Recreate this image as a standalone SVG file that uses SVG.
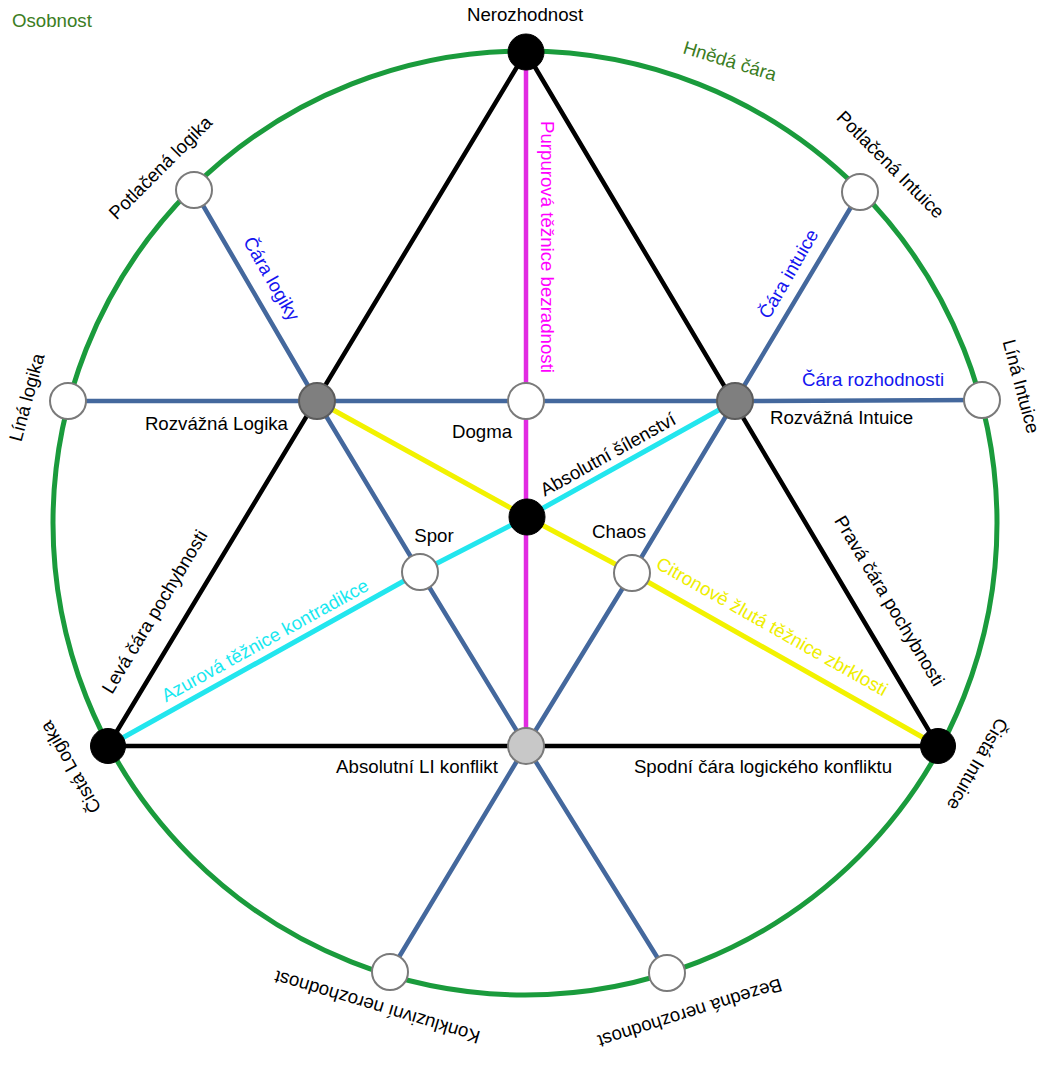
<svg xmlns="http://www.w3.org/2000/svg" width="1052" height="1068" viewBox="0 0 1052 1068">
<style>
text{font-family:"Liberation Sans",Arial,sans-serif;font-size:18.67px;fill:#000}
.g{fill:#3b7d23}
.b{fill:#1414f0}
.m{fill:#ff00ff}
.c{fill:#18e8f0}
.y{fill:#eeee00}
.ln{fill:none;stroke-linejoin:round;stroke-linecap:round}
.blk{stroke:#000;stroke-width:4.5}
.blu{stroke:#44689d;stroke-width:4.5}
.mag{stroke:#e22ae2;stroke-width:4.5}
.yel{stroke:#f2f200;stroke-width:5}
.cya{stroke:#22e6ee;stroke-width:5}
.w{fill:#fff;stroke:#7a7a7a;stroke-width:2}
.k{fill:#000;stroke:#000;stroke-width:1}
.gr{fill:#7f7f7f;stroke:#5c5c5c;stroke-width:2}
.lg{fill:#c8c8c8;stroke:#7a7a7a;stroke-width:2}
</style>
<rect width="1052" height="1068" fill="#fff"/>
<circle id="osobnost-circle" cx="525" cy="523" r="472" fill="none" stroke="#1a9b3c" stroke-width="5"/>
<g id="connectors">
<polyline class="ln blu" points="194,190 317,401 420,572 526,746 667,973"/>
<polyline class="ln blu" points="860,192 735,401 632,573 526,746 390,972"/>
<polyline class="ln blu" points="68,401 317,401 526,401 735,401 982,400"/>
<polygon class="ln blk" points="526,52 108,746 938,746"/>
<line class="ln mag" x1="526" y1="52" x2="526" y2="746"/>
<polyline class="ln yel" points="317,401 527,517 632,573 938,746"/>
<polyline class="ln cya" points="108,746 420,572 527,517 735,401"/>
</g>
<g id="n-nerozhodnost"><circle class="k" cx="526" cy="52" r="18"/><text x="525" y="21" text-anchor="middle">Nerozhodnost</text></g>
<g id="n-potlacena-logika"><circle class="w" cx="194" cy="190" r="18"/><text transform="translate(165,172) rotate(-45)" text-anchor="middle">Potlačená logika</text></g>
<g id="n-potlacena-intuice"><circle class="w" cx="860" cy="192" r="18"/><text transform="translate(886,169) rotate(45)" text-anchor="middle">Potlačená Intuice</text></g>
<g id="n-lina-logika"><circle class="w" cx="68" cy="401" r="18"/><text transform="translate(33,399) rotate(-75)" text-anchor="middle">Líná logika</text></g>
<g id="n-lina-intuice"><circle class="w" cx="982" cy="400" r="18"/><text transform="translate(1015,388) rotate(75)" text-anchor="middle">Líná Intuice</text></g>
<g id="n-rozvazna-logika"><circle class="gr" cx="317" cy="401" r="18"/><text x="288" y="430" text-anchor="end">Rozvážná Logika</text></g>
<g id="n-dogma"><circle class="w" cx="526" cy="401" r="18"/><text x="482" y="438" text-anchor="middle">Dogma</text></g>
<g id="n-rozvazna-intuice"><circle class="gr" cx="735" cy="401" r="18"/><text x="770" y="424">Rozvážná Intuice</text></g>
<g id="n-absolutni-silenstvi"><circle class="k" cx="527" cy="517" r="18"/><text transform="translate(611,460) rotate(-29)" text-anchor="middle">Absolutní šílenství</text></g>
<g id="n-spor"><circle class="w" cx="420" cy="572" r="18"/><text x="434" y="542" text-anchor="middle">Spor</text></g>
<g id="n-chaos"><circle class="w" cx="632" cy="573" r="18"/><text x="619" y="538" text-anchor="middle">Chaos</text></g>
<g id="n-cista-logika"><circle class="k" cx="108" cy="746" r="17.5"/><text transform="translate(76,764) rotate(-120)" text-anchor="middle">Čistá Logika</text></g>
<g id="n-cista-intuice"><circle class="k" cx="938" cy="746" r="17.5"/><text transform="translate(972,761) rotate(120)" text-anchor="middle">Čistá Intuice</text></g>
<g id="n-absolutni-li-konflikt"><circle class="lg" cx="526" cy="746" r="18"/><text x="417" y="773" text-anchor="middle">Absolutní LI konflikt</text></g>
<g id="n-konkluzivni"><circle class="w" cx="390" cy="972" r="18"/><text transform="translate(379,1001) rotate(196.7)" text-anchor="middle">Konkluzivní nerozhodnost</text></g>
<g id="n-bezedna"><circle class="w" cx="667" cy="973" r="18"/><text transform="translate(688,1007) rotate(162.5)" text-anchor="middle">Bezedná nerozhodnost</text></g>
<g id="labels">
<text class="g" x="12" y="27">Osobnost</text>
<text class="g" transform="translate(728,67) rotate(17)" text-anchor="middle">Hnědá čára</text>
<text class="b" transform="translate(266,282) rotate(60)" text-anchor="middle">Čára logiky</text>
<text class="b" transform="translate(794,277) rotate(-60)" text-anchor="middle">Čára intuice</text>
<text class="b" x="873" y="386" text-anchor="middle">Čára rozhodnosti</text>
<text class="m" transform="translate(541,247) rotate(90)" text-anchor="middle">Purpurová těžnice bezradnosti</text>
<text transform="translate(160,615) rotate(-59)" text-anchor="middle">Levá čára pochybnosti</text>
<text class="c" transform="translate(268,646) rotate(-29)" text-anchor="middle">Azurová těžnice kontradikce</text>
<text class="y" transform="translate(769,632) rotate(29.5)" text-anchor="middle">Citronově žlutá těžnice zbrklosti</text>
<text transform="translate(884,604) rotate(59)" text-anchor="middle">Pravá čára pochybnosti</text>
<text x="763" y="773" text-anchor="middle">Spodní čára logického konfliktu</text>
</g>
</svg>
